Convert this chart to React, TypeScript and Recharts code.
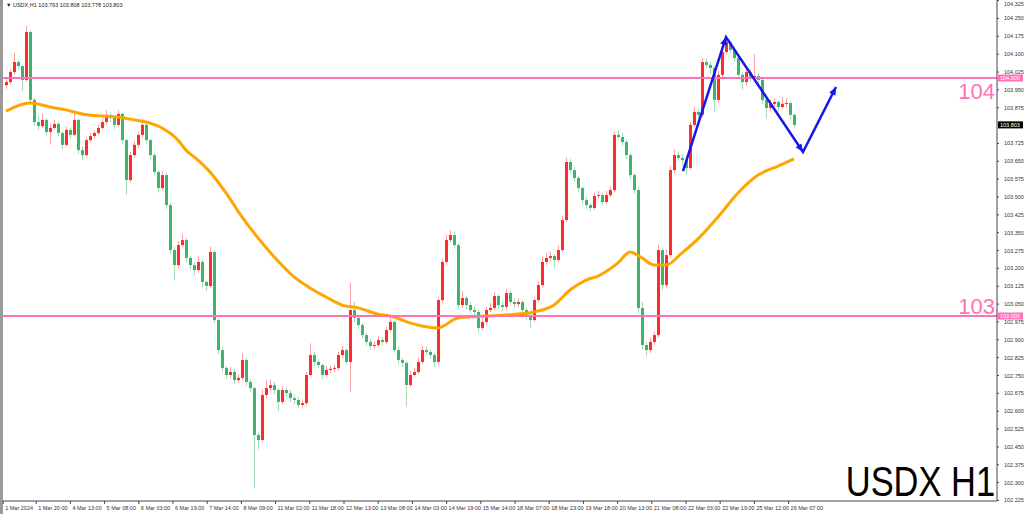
import React from "react";
import { ComposedChart, Bar, Line, XAxis, YAxis, ReferenceLine } from "recharts";

// H1 candles, one entry per bar (opens follow the previous close)
const firstOpen = 103.97;
const closes = [
  103.983, 104.025, 104.067, 104.05, 103.992, 104.193, 103.908, 103.815, 103.798, 103.824,
  103.773, 103.79, 103.807, 103.769, 103.719, 103.782, 103.761, 103.824, 103.697, 103.676,
  103.739, 103.756, 103.769, 103.79, 103.815, 103.845, 103.832, 103.803, 103.849, 103.739,
  103.571, 103.676, 103.719, 103.761, 103.803, 103.739, 103.676, 103.605, 103.538, 103.592,
  103.466, 103.277, 103.214, 103.298, 103.319, 103.244, 103.214, 103.193, 103.227, 103.143,
  103.126, 103.269, 102.983, 102.857, 102.782, 102.752, 102.765, 102.731, 102.74, 102.815,
  102.723, 102.697, 102.5, 102.479, 102.668, 102.697, 102.71, 102.689, 102.639, 102.689,
  102.676, 102.655, 102.647, 102.626, 102.634, 102.752, 102.836, 102.807, 102.794, 102.752,
  102.773, 102.778, 102.782, 102.836, 102.857, 102.807, 103.025, 102.992, 102.962, 102.92,
  102.891, 102.874, 102.878, 102.899, 102.891, 102.941, 102.975, 102.857, 102.815, 102.803,
  102.71, 102.752, 102.765, 102.807, 102.857, 102.849, 102.836, 102.807, 103.067, 103.227,
  103.319, 103.34, 103.298, 103.046, 103.076, 103.046, 103.025, 103.017, 102.95, 102.975,
  103.025, 103.034, 103.084, 103.046, 103.038, 103.097, 103.059, 103.05, 103.059, 103.025,
  103.0, 102.983, 103.067, 103.13, 103.227, 103.244, 103.252, 103.235, 103.277, 103.403,
  103.647, 103.613, 103.58, 103.538, 103.487, 103.466, 103.454, 103.504, 103.508, 103.479,
  103.508, 103.529, 103.761, 103.752, 103.731, 103.676, 103.592, 103.529, 103.034, 102.878,
  102.857, 102.891, 102.92, 103.277, 103.13, 103.256, 103.613, 103.676, 103.664, 103.655,
  103.622, 103.803, 103.857, 103.845, 104.067, 104.055, 104.042, 103.908, 104.013, 104.109,
  104.151, 104.118, 104.084, 104.013, 103.983, 104.025, 104.0, 104.008, 103.992, 103.908,
  103.874, 103.891, 103.899, 103.878, 103.891, 103.895, 103.845, 103.803,
];
const highs = [
  103.995, 104.035, 104.105, 104.075, 104.055, 104.218, 104.2, 103.915, 103.84, 103.85,
  103.83, 103.81, 103.825, 103.815, 103.775, 103.795, 103.79, 103.855, 103.83, 103.71,
  103.75, 103.77, 103.78, 103.805, 103.83, 103.865, 103.855, 103.84, 103.865, 103.855,
  103.745, 103.69, 103.735, 103.775, 103.825, 103.81, 103.745, 103.685, 103.612, 103.61,
  103.6, 103.475, 103.29, 103.315, 103.345, 103.33, 103.255, 103.225, 103.25, 103.235,
  103.15, 103.29, 103.275, 102.99, 102.87, 102.79, 102.785, 102.775, 102.755, 102.845,
  102.825, 102.735, 102.705, 102.51, 102.69, 102.73, 102.735, 102.725, 102.7, 102.705,
  102.7, 102.69, 102.67, 102.66, 102.65, 102.765, 102.885, 102.85, 102.82, 102.8,
  102.79, 102.79, 102.795, 102.85, 102.875, 102.865, 103.14, 103.06, 103.005, 102.97,
  102.93, 102.9, 102.895, 102.915, 102.91, 102.955, 102.995, 102.98, 102.87, 102.825,
  102.81, 102.77, 102.78, 102.825, 102.875, 102.87, 102.86, 102.845, 103.08, 103.24,
  103.34, 103.36, 103.355, 103.305, 103.105, 103.085, 103.06, 103.04, 103.025, 102.99,
  103.04, 103.055, 103.1, 103.09, 103.06, 103.115, 103.105, 103.075, 103.075, 103.065,
  103.035, 103.01, 103.08, 103.145, 103.25, 103.265, 103.27, 103.26, 103.295, 103.42,
  103.665, 103.66, 103.625, 103.59, 103.545, 103.5, 103.475, 103.52, 103.525, 103.515,
  103.525, 103.545, 103.775, 103.78, 103.77, 103.74, 103.685, 103.6, 103.54, 103.06,
  102.89, 102.91, 102.935, 103.3, 103.285, 103.28, 103.63, 103.7, 103.69, 103.68,
  103.665, 103.815, 103.88, 103.87, 104.085, 104.08, 104.07, 104.05, 104.03, 104.12,
  104.16, 104.158, 104.13, 104.095, 104.025, 104.04, 104.04, 104.1, 104.02, 104.0,
  103.915, 103.91, 103.915, 103.905, 103.92, 103.915, 103.9, 103.85,
];
const lows = [
  103.955, 103.975, 104.015, 104.035, 103.945, 103.985, 103.89, 103.8, 103.78, 103.79,
  103.76, 103.72, 103.78, 103.755, 103.7, 103.71, 103.745, 103.755, 103.68, 103.655,
  103.67, 103.73, 103.745, 103.76, 103.785, 103.808, 103.815, 103.785, 103.795, 103.72,
  103.51, 103.56, 103.665, 103.705, 103.75, 103.725, 103.66, 103.59, 103.52, 103.53,
  103.45, 103.26, 103.15, 103.2, 103.29, 103.225, 103.195, 103.17, 103.18, 103.12,
  103.105, 103.12, 102.97, 102.84, 102.765, 102.735, 102.74, 102.715, 102.72, 102.73,
  102.705, 102.68, 102.275, 102.44, 102.47, 102.655, 102.685, 102.67, 102.6, 102.63,
  102.66, 102.64, 102.63, 102.61, 102.615, 102.625, 102.745, 102.79, 102.78, 102.735,
  102.745, 102.76, 102.765, 102.77, 102.825, 102.795, 102.68, 102.975, 102.945, 102.905,
  102.875, 102.86, 102.86, 102.87, 102.875, 102.88, 102.935, 102.845, 102.8, 102.785,
  102.62, 102.7, 102.745, 102.755, 102.8, 102.835, 102.82, 102.785, 102.795, 103.055,
  103.215, 103.31, 103.285, 103.03, 103.035, 103.03, 103.01, 102.995, 102.93, 102.94,
  102.965, 103.015, 103.025, 103.03, 103.02, 103.03, 103.045, 103.035, 103.04, 103.01,
  102.985, 102.95, 102.975, 103.06, 103.12, 103.215, 103.23, 103.2, 103.225, 103.27,
  103.395, 103.6, 103.565, 103.52, 103.47, 103.45, 103.44, 103.445, 103.495, 103.465,
  103.47, 103.5, 103.52, 103.74, 103.715, 103.66, 103.575, 103.515, 103.01, 102.86,
  102.83, 102.845, 102.88, 102.91, 103.11, 103.12, 103.245, 103.6, 103.65, 103.63,
  103.59, 103.615, 103.795, 103.83, 103.835, 104.04, 104.02, 103.86, 103.895, 104.0,
  104.1, 104.105, 104.07, 103.995, 103.95, 103.97, 103.985, 103.99, 103.975, 103.89,
  103.83, 103.86, 103.88, 103.86, 103.87, 103.875, 103.83, 103.79,
];

// moving average: bar index / value
const maIndex = [
  0, 6, 11, 15, 19, 24, 28, 32, 35, 39, 43, 45, 48, 51, 55, 59, 63, 68, 72, 76, 80, 84, 88, 93, 97,
  101, 104, 108, 113, 120, 128, 132, 137, 141, 145, 148, 153, 156, 159, 162, 165, 169, 173, 178,
  183, 188, 193, 197,
];
const maValues = [
  103.861, 103.895, 103.878, 103.866, 103.849, 103.84, 103.836, 103.824, 103.815, 103.79, 103.739,
  103.697, 103.655, 103.605, 103.517, 103.416, 103.328, 103.231, 103.164, 103.118, 103.08, 103.046,
  103.034, 103.008, 102.996, 102.971, 102.958, 102.95, 102.992, 103.0, 103.008, 103.017, 103.046,
  103.109, 103.151, 103.168, 103.223, 103.269, 103.244, 103.214, 103.214, 103.265, 103.324,
  103.416, 103.517, 103.592, 103.63, 103.66,
];

// hand-drawn blue arrows (bar index / price)
const arrowIndex = [169.25, 180, 199.25, 207.5];
const arrowPrice = [103.609, 104.172, 103.689, 103.962];

const levels = [104, 103];

// 103.800 sits under the bid tag, so it is left out like in the terminal
const yTicks = [
  102.225, 102.3, 102.375, 102.45, 102.525, 102.6, 102.675, 102.75, 102.825, 102.9, 102.975,
  103.05, 103.125, 103.2, 103.275, 103.35, 103.425, 103.5, 103.575, 103.65, 103.725,
  103.875, 103.95, 104.025, 104.1, 104.175, 104.25, 104.325,
];
const xTickPos = [
  -0.7, 7.55, 16.1, 24.65, 33.2, 41.75, 50.3, 58.85, 67.4, 75.95, 84.5, 93.05, 101.6, 110.15,
  118.7, 127.25, 135.8, 144.35, 152.9, 161.45, 170, 178.55, 187.1, 195.65,
];
const xTickLabels = [
  "1 Mar 2024", "1 Mar 20:00", "4 Mar 13:00", "5 Mar 08:00", "6 Mar 03:00", "6 Mar 19:00",
  "7 Mar 14:00", "8 Mar 09:00", "11 Mar 02:00", "11 Mar 18:00", "12 Mar 13:00", "13 Mar 08:00",
  "14 Mar 03:00", "14 Mar 19:00", "15 Mar 14:00", "18 Mar 07:00", "18 Mar 23:00", "19 Mar 18:00",
  "20 Mar 13:00", "21 Mar 08:00", "22 Mar 03:00", "22 Mar 19:00", "25 Mar 12:00", "26 Mar 07:00",
];

const UP = "#ff2a2a";
const DOWN = "#3cb46e";
const UP_WICK = "#f7a3a3";
const DOWN_WICK = "#a6dcba";
const PINK = "#ff72b6";
const BLUE = "#1616e8";
const FONT = "'Liberation Sans', Arial, sans-serif";

const candles = closes.map((c, i) => {
  const o = i === 0 ? firstOpen : closes[i - 1];
  const h = Math.max(highs[i], o, c);
  const l = Math.min(lows[i], o, c);
  return { i, o, c, h, l, range: [l, h] };
});
const maData = maIndex.map((i, k) => ({ i, v: maValues[k] }));
const arrowData = arrowIndex.map((i, k) => ({ i, p: arrowPrice[k] }));

function Candle(props: any) {
  const { x, width, payload } = props;
  let { y, height } = props;
  if (height < 0) {
    y = y + height;
    height = -height;
  }
  const { o, c, h, l } = payload;
  const up = c >= o;
  const span = h - l || 1e-6;
  const py = (p: number) => y + ((h - p) / span) * height;
  const cx = Math.round(x + width / 2) + 0.5;
  const top = py(Math.max(o, c));
  const bot = py(Math.min(o, c));
  return (
    <g>
      <line x1={cx} x2={cx} y1={y} y2={y + height} stroke={up ? UP_WICK : DOWN_WICK} strokeWidth={1} />
      <rect x={cx - 1.5} y={top} width={3} height={Math.max(1, bot - top)} fill={up ? UP : DOWN} />
    </g>
  );
}

// arrowheads: each point remembers where it is so the next one knows its heading
const seen: { cx: number; cy: number }[] = [];
function ArrowHead(props: any) {
  const { cx, cy, index } = props;
  seen[index] = { cx, cy };
  if (index === 0 || !seen[index - 1]) return <g key={`a${index}`} />;
  const prev = seen[index - 1];
  const a = Math.atan2(cy - prev.cy, cx - prev.cx);
  const len = 8;
  const half = 3.5;
  const bx = cx - len * Math.cos(a);
  const by = cy - len * Math.sin(a);
  const nx = -Math.sin(a);
  const ny = Math.cos(a);
  const pts = `${cx},${cy} ${bx + half * nx},${by + half * ny} ${bx - half * nx},${by - half * ny}`;
  return <polygon key={`a${index}`} points={pts} fill={BLUE} />;
}

function LevelTag(props: any) {
  const { viewBox, big, above, tag, bg } = props;
  if (!viewBox) return null;
  const { x, y, width } = viewBox;
  const right = x + width;
  return (
    <g fontFamily={FONT}>
      {big && (
        <text x={right - 2} y={above ? y - 2 : y + 21} textAnchor="end" fontSize={22} fill={PINK}>
          {big}
        </text>
      )}
      <rect x={right + 1} y={y - 3.5} width={25} height={7} fill={bg} />
      <text x={right + 3} y={y + 2} fontSize={5.5} fill="#fff">
        {tag}
      </text>
    </g>
  );
}

function YTick(props: any) {
  const { x, y, payload } = props;
  return (
    <text x={x + 3} y={Math.max(y + 2, 6)} fontSize={5.5} fill="#333" fontFamily={FONT}>
      {payload.value.toFixed(3)}
    </text>
  );
}

function XTick(props: any) {
  const { x, y, index } = props;
  return (
    <text x={x + 2} y={y + 4} fontSize={5.5} fill="#333" fontFamily={FONT}>
      {xTickLabels[index]}
    </text>
  );
}

export default function App() {
  const last = closes[closes.length - 1];
  return (
    <div
      style={{
        position: "absolute",
        left: 0,
        top: 0,
        width: 1024,
        height: 514,
        background: "#fff",
        overflow: "hidden",
        fontFamily: FONT,
      }}
    >
      <div style={{ position: "absolute", left: 0, top: 0, width: 3, height: 514, background: "#9a9a9a" }} />
      <ComposedChart
        width={1024}
        height={514}
        data={candles}
        margin={{ top: 0, right: 0, bottom: 0, left: 3 }}
      >
        <XAxis
          dataKey="i"
          type="number"
          domain={[-0.75, 247.75]}
          allowDataOverflow
          ticks={xTickPos}
          interval={0}
          height={13}
          axisLine={{ stroke: "#444" }}
          tickLine={{ stroke: "#444" }}
          tickSize={3}
          tick={<XTick />}
        />
        <YAxis
          orientation="right"
          type="number"
          domain={[102.2227, 104.3277]}
          allowDataOverflow
          ticks={yTicks}
          interval={0}
          width={27}
          axisLine={{ stroke: "#444" }}
          tickLine={{ stroke: "#444" }}
          tickSize={2}
          tick={<YTick />}
        />
        <Bar dataKey="range" barSize={3} shape={<Candle />} isAnimationActive={false} />
        <Line
          data={maData}
          dataKey="v"
          type="monotone"
          stroke="#ffa500"
          strokeWidth={3}
          dot={false}
          activeDot={false}
          isAnimationActive={false}
        />
        <ReferenceLine
          y={levels[0]}
          stroke={PINK}
          strokeWidth={2}
          label={<LevelTag big="104" tag="104.000" bg={PINK} />}
        />
        <ReferenceLine
          y={levels[1]}
          stroke={PINK}
          strokeWidth={2}
          label={<LevelTag big="103" above tag="103.000" bg={PINK} />}
        />
        <ReferenceLine
          y={last}
          stroke="none"
          strokeOpacity={0}
          label={<LevelTag tag={last.toFixed(3)} bg="#000" />}
        />
        <Line
          data={arrowData}
          dataKey="p"
          type="linear"
          stroke={BLUE}
          strokeWidth={2.5}
          dot={<ArrowHead />}
          activeDot={false}
          isAnimationActive={false}
        />
      </ComposedChart>
      <div style={{ position: "absolute", left: 6, top: 2, fontSize: 5.5, color: "#222", whiteSpace: "nowrap" }}>
        ▼ USDX,H1 103.793 103.808 103.778 103.803
      </div>
      <div
        style={{
          position: "absolute",
          right: 29,
          top: 458,
          fontSize: 42,
          lineHeight: "48px",
          color: "#000",
          whiteSpace: "nowrap",
          transform: "scaleX(0.82)",
          transformOrigin: "right center",
        }}
      >
        USDX H1
      </div>
    </div>
  );
}
